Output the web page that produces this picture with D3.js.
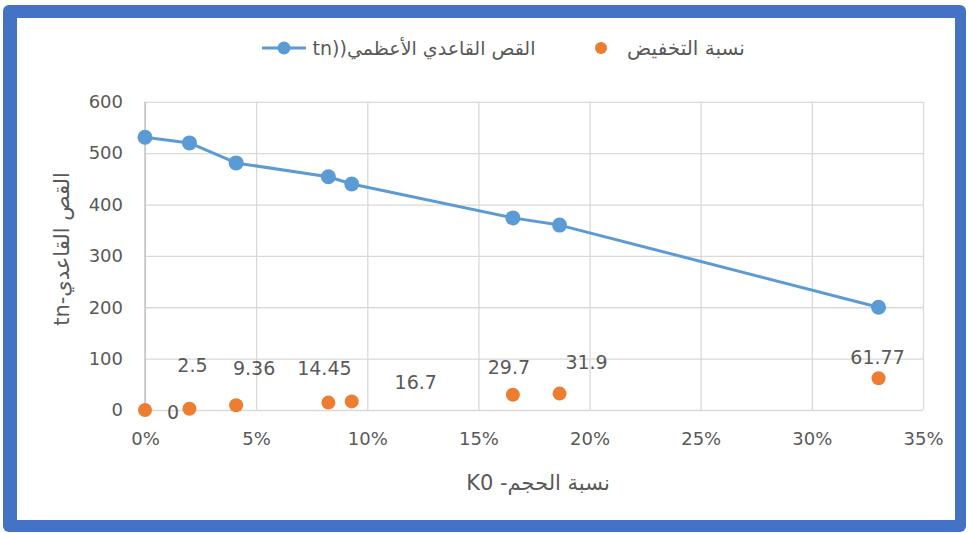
<!DOCTYPE html>
<html>
<head>
<meta charset="utf-8">
<script src="https://cdn.jsdelivr.net/npm/d3@7/dist/d3.min.js"></script>
<style>
  html, body { margin: 0; padding: 0; background: #ffffff; }
  svg { display: block; }
  text { font-family: "DejaVu Sans", "Noto Sans", sans-serif; fill: #595959; }
</style>
</head>
<body>
<svg id="chart" width="969" height="533"></svg>
<script>
// Volume ratio (K0, in percent) of each test case
const volumeRatio = [0, 2, 4.1, 8.25, 9.3, 16.55, 18.65, 33];
// Maximum base shear (tn)
const maxBaseShear = [531, 520, 481, 454, 440, 374, 360, 200];
// Reduction ratio (%)
const reductionRatio = [0, 2.5, 9.36, 14.45, 16.7, 29.7, 31.9, 61.77];
// Axis ticks
const xTicks = [0, 5, 10, 15, 20, 25, 30, 35];
const yTicks = [0, 100, 200, 300, 400, 500, 600];
// Series names
const seriesNames = ["القص القاعدي الأعظمي((tn", "نسبة التخفيض"];
// Pixel nudges of the reduction-ratio value labels (dx, dy) relative to their points
const labelNudge = [[28, 2], [3, -44], [18, -37], [-4, -35], [64, -19], [-4, -28], [27, -32], [-1, -21]];

const svg = d3.select("#chart");
const blue = "#5B9BD5", orange = "#ED7D31", grid = "#D9D9D9", frame = "#4472C4";

// Frame
svg.append("rect").attr("x", 3).attr("y", 5).attr("width", 963).attr("height", 527)
  .attr("rx", 6).attr("fill", frame);
svg.append("rect").attr("x", 17).attr("y", 18).attr("width", 938).attr("height", 502)
  .attr("fill", "#ffffff");

const x = d3.scaleLinear().domain([0, 35]).range([145, 923]);
const y = d3.scaleLinear().domain([0, 600]).range([410, 101.8]);

// Horizontal gridlines + y tick labels
const yAxis = svg.append("g").attr("transform", `translate(${x(0)},0)`)
  .call(d3.axisLeft(y).tickValues(yTicks).tickSize(-(x(35) - x(0))).tickPadding(22).tickFormat(d3.format("d")));
yAxis.select(".domain").remove();
yAxis.selectAll("line").attr("stroke", grid).attr("stroke-width", 1.3);
yAxis.selectAll("text").attr("font-size", 18).attr("fill", "#595959")
  .style("font-family", "DejaVu Sans, sans-serif");

// Vertical gridlines + x tick labels
const xAxis = svg.append("g").attr("transform", `translate(0,${y(0)})`)
  .call(d3.axisBottom(x).tickValues(xTicks).tickSize(-(y(0) - y(600))).tickPadding(22).tickFormat(d => d + "%"));
xAxis.select(".domain").remove();
xAxis.selectAll("line").attr("stroke", grid).attr("stroke-width", 1.3);
xAxis.selectAll("text").attr("font-size", 18).attr("fill", "#595959")
  .style("font-family", "DejaVu Sans, sans-serif");

// Y axis line
svg.append("line").attr("x1", x(0)).attr("x2", x(0)).attr("y1", y(600)).attr("y2", y(0))
  .attr("stroke", "#BFBFBF").attr("stroke-width", 1.3);

const pts = volumeRatio.map((v, i) => ({ v, shear: maxBaseShear[i], red: reductionRatio[i], nudge: labelNudge[i] }));

// Max base shear line
svg.append("path").datum(pts)
  .attr("fill", "none").attr("stroke", blue).attr("stroke-width", 3).attr("stroke-linejoin", "round")
  .attr("d", d3.line().x(d => x(d.v)).y(d => y(d.shear)));
svg.append("g").selectAll("circle").data(pts).join("circle")
  .attr("cx", d => x(d.v)).attr("cy", d => y(d.shear)).attr("r", 7.5).attr("fill", blue);

// Reduction ratio points
svg.append("g").selectAll("circle").data(pts).join("circle")
  .attr("cx", d => x(d.v)).attr("cy", d => y(d.red)).attr("r", 7).attr("fill", orange);

// Reduction ratio value labels
svg.append("g").selectAll("text").data(pts).join("text")
  .attr("x", d => x(d.v) + d.nudge[0]).attr("y", d => y(d.red) + d.nudge[1])
  .attr("text-anchor", "middle").attr("dominant-baseline", "central")
  .attr("font-size", 19).text(d => d3.format("")(d.red));

// Axis titles
svg.append("text").attr("x", 538).attr("y", 483).attr("text-anchor", "middle")
  .attr("dominant-baseline", "central").attr("direction", "rtl").attr("font-size", 21)
  .text("نسبة الحجم- K0");
svg.append("text").attr("transform", "translate(62,249) rotate(-90)").attr("text-anchor", "middle")
  .attr("dominant-baseline", "central").attr("direction", "rtl").attr("font-size", 21)
  .text("القص القاعدي-tn");

// Legend
const legY = 48;
svg.append("line").attr("x1", 262).attr("x2", 306).attr("y1", legY).attr("y2", legY)
  .attr("stroke", blue).attr("stroke-width", 3);
svg.append("circle").attr("cx", 284).attr("cy", legY).attr("r", 6.5).attr("fill", blue);
svg.append("text").attr("x", 424).attr("y", legY).attr("text-anchor", "middle")
  .attr("dominant-baseline", "central").attr("direction", "rtl").attr("font-size", 19)
  .text(seriesNames[0]);
svg.append("circle").attr("cx", 601).attr("cy", legY).attr("r", 6).attr("fill", orange);
svg.append("text").attr("x", 686).attr("y", legY).attr("text-anchor", "middle")
  .attr("dominant-baseline", "central").attr("direction", "rtl").attr("font-size", 20)
  .text(seriesNames[1]);
</script>
</body>
</html>
